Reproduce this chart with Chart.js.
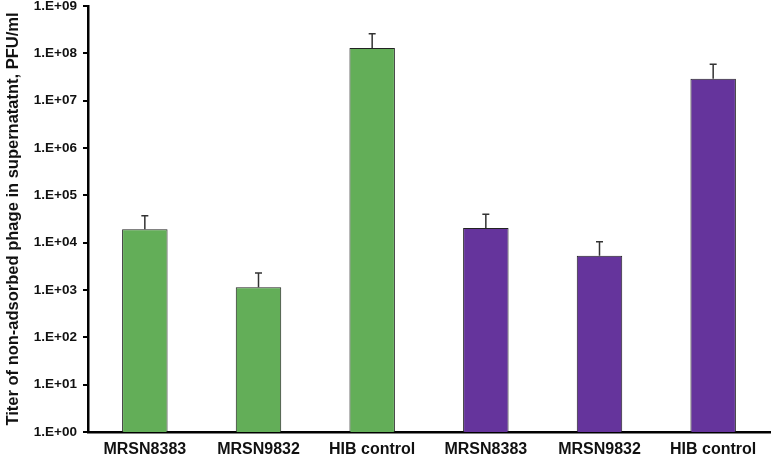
<!DOCTYPE html>
<html>
<head>
<meta charset="utf-8">
<script src="https://cdn.jsdelivr.net/npm/chart.js@4/dist/chart.umd.min.js"></script>
<style>
html,body{margin:0;padding:0;background:#fff;}
#wrap{width:771px;height:459px;}
</style>
</head>
<body>
<div id="wrap"><canvas id="c" width="771" height="459"></canvas></div>
<script>
const categories = ["MRSN8383", "MRSN9832", "HIB control", "MRSN8383", "MRSN9832", "HIB control"];
const titerValues = [1.93e4, 1.15e3, 1.29e8, 2.03e4, 5.3e3, 2.9e7];
const errorUpper = [3.7e4, 2.3e3, 2.6e8, 4.0e4, 1.05e4, 5.9e7];
const barColors = ["#63AE58", "#63AE58", "#63AE58", "#65349C", "#65349C", "#65349C"];
const yTickValues = [1e0, 1e1, 1e2, 1e3, 1e4, 1e5, 1e6, 1e7, 1e8, 1e9];
const yTickLabels = ["1.E+00", "1.E+01", "1.E+02", "1.E+03", "1.E+04", "1.E+05", "1.E+06", "1.E+07", "1.E+08", "1.E+09"];
const yTitle = "Titer of non-adsorbed phage in supernatatnt, PFU/ml";

const errorBarPlugin = {
  id: 'errorBars',
  afterDatasetsDraw(chart) {
    const ctx = chart.ctx;
    const meta = chart.getDatasetMeta(0);
    const y = chart.scales.y;
    ctx.save();
    ctx.strokeStyle = '#333';
    ctx.lineWidth = 1.5;
    meta.data.forEach((bar, i) => {
      const x = bar.x;
      const yTop = y.getPixelForValue(errorUpper[i]);
      const yBar = y.getPixelForValue(titerValues[i]);
      ctx.beginPath();
      ctx.moveTo(x, yBar);
      ctx.lineTo(x, yTop);
      ctx.moveTo(x - 3.5, yTop);
      ctx.lineTo(x + 3.5, yTop);
      ctx.stroke();
    });
    ctx.restore();
  }
};

new Chart(document.getElementById('c'), {
  type: 'bar',
  data: {
    labels: categories,
    datasets: [{
      data: titerValues,
      backgroundColor: barColors,
      borderColor: '#222',
      borderWidth: 1,
      barPercentage: 0.4,
      categoryPercentage: 1.0
    }]
  },
  options: {
    responsive: false,
    animation: false,
    layout: { padding: { top: 0, right: 1, bottom: 0, left: 0 } },
    plugins: { legend: { display: false }, tooltip: { enabled: false } },
    scales: {
      x: {
        grid: { display: false },
        border: { display: true, color: '#000', width: 2.5 },
        ticks: {
          color: '#111',
          font: { family: 'Liberation Sans, Arial, sans-serif', size: 16, weight: 'bold', lineHeight: 1 },
          padding: 2,
          maxRotation: 0,
          autoSkip: false
        },
        afterFit(scale) { scale.height = 27; }
      },
      y: {
        type: 'logarithmic',
        min: 1,
        max: 1e9,
        grid: { display: true, drawOnChartArea: false, drawTicks: true, tickLength: 5, color: '#000', lineWidth: 2 },
        border: { display: true, color: '#000', width: 2.5 },
        afterBuildTicks(scale) {
          scale.ticks = yTickValues.map(v => ({ value: v, major: true }));
        },
        ticks: {
          color: '#111',
          font: { family: 'Liberation Sans, Arial, sans-serif', size: 13.5, weight: 'bold', lineHeight: 1 },
          padding: 6,
          callback(value) {
            const idx = yTickValues.indexOf(value);
            return idx >= 0 ? yTickLabels[idx] : '';
          }
        },
        title: {
          display: true,
          text: yTitle,
          color: '#111',
          font: { family: 'Liberation Sans, Arial, sans-serif', size: 16.5, weight: 'bold', lineHeight: 1.2 },
          padding: { top: 4, bottom: 0 }
        },
        afterFit(scale) {
          scale.width = 88;
          scale.paddingTop = 6;
          scale.paddingBottom = 0;
        }
      }
    }
  },
  plugins: [errorBarPlugin]
});
</script>
</body>
</html>
